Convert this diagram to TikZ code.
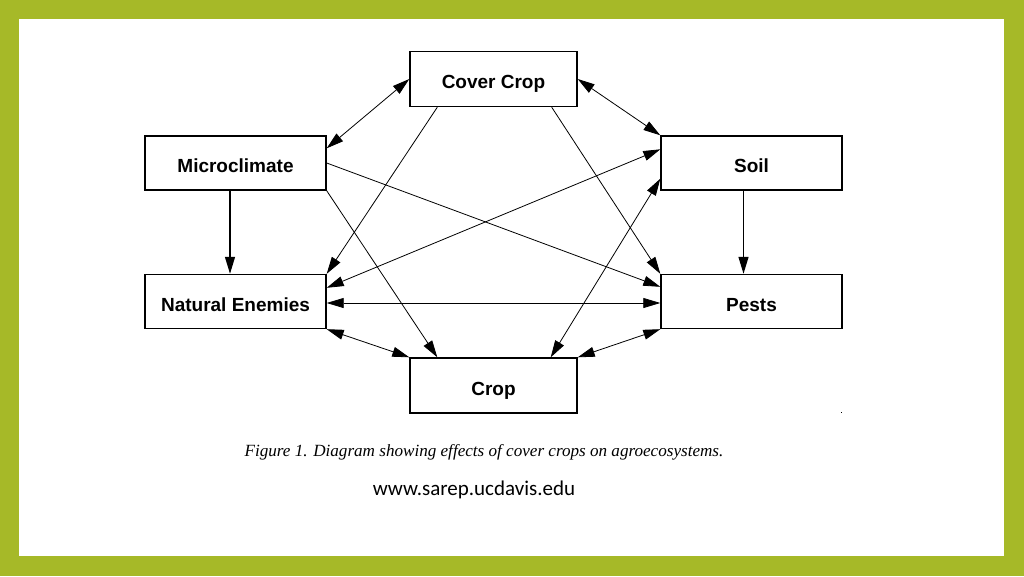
\documentclass[tikz,border=0pt]{standalone}
\usepackage{fontspec}
\setmainfont{Liberation Serif}
\setsansfont{Liberation Sans}
\newfontfamily\urlfont{Carlito}
\usetikzlibrary{arrows.meta}
\definecolor{frame}{RGB}{166,185,40}
\tikzset{
  box/.style={draw=black, line width=1.4pt, fill=white, inner sep=0pt,
    text height=19.6pt, text depth=0pt,
    font=\sffamily\bfseries\fontsize{19}{20}\selectfont},
  wbox/.style={box, minimum width=181pt, minimum height=54pt},
  nbox/.style={box, minimum width=167pt, minimum height=55pt},
  tip/.tip={Triangle[length=17pt,width=10pt]},
  one/.style={draw=black, line width=0.8pt, -tip},
  two/.style={draw=black, line width=0.8pt, tip-tip},
}
\begin{document}
\begin{tikzpicture}[x=1pt,y=-1pt]
\useasboundingbox (0,0) rectangle (1024,576);
\fill[frame] (0,0) rectangle (1024,576);
\fill[white] (19,19) rectangle (1004,556);

\node[nbox] (cc) at (493.5,79) {Cover Crop};
\node[wbox] (mc) at (235.5,163) {Microclimate};
\node[wbox] (ne) at (235.5,301.5) {Natural Enemies};
\node[nbox] (crop) at (493.5,385.5) {Crop};
\node[wbox] (soil) at (751.5,163) {Soil};
\node[wbox] (pests) at (751.5,301.5) {Pests};

% connectors
\draw[two] (cc.west) -- ([yshift=-13pt]mc.north east);
\draw[two] (cc.east) -- (soil.north west);
\draw[one] ([xshift=28pt]cc.south west) -- (ne.north east);
\draw[one] ([xshift=-26pt]cc.south east) -- (pests.north west);
\draw[one] (mc.east) -- ([yshift=-13pt]pests.north west);
\draw[one] (mc.south east) -- ([xshift=28pt]crop.north west);
\draw[one, line width=1.3pt] ([xshift=-5.5pt]mc.south) -- ([xshift=-5.5pt]ne.north);
\draw[two] ([yshift=-14pt]soil.north west) -- ([yshift=-14pt]ne.north east);
\draw[two] ([yshift=12pt]soil.south west) -- ([xshift=-27pt]crop.north east);
\draw[one, line width=1.3pt] ([xshift=-8pt]soil.south) -- ([xshift=-8pt]pests.north);
\draw[two] ([yshift=-1.5pt]ne.east) -- ([yshift=-1.5pt]pests.west);
\draw[two] (ne.south east) -- (crop.north west);
\draw[two] (pests.south west) -- (crop.north east);

\fill[black] (840.5,411.5) rectangle (842,413);

\node[font=\itshape\fontsize{17.1}{20}\selectfont, inner sep=0pt] (cap) at (484,452) {Figure 1. Diagram showing effects of cover crops on agroecosystems.};
\node[font=\urlfont\fontsize{21}{24}\selectfont, inner sep=0pt] (url) at (474,490) {www.sarep.ucdavis.edu};
\end{tikzpicture}
\end{document}
